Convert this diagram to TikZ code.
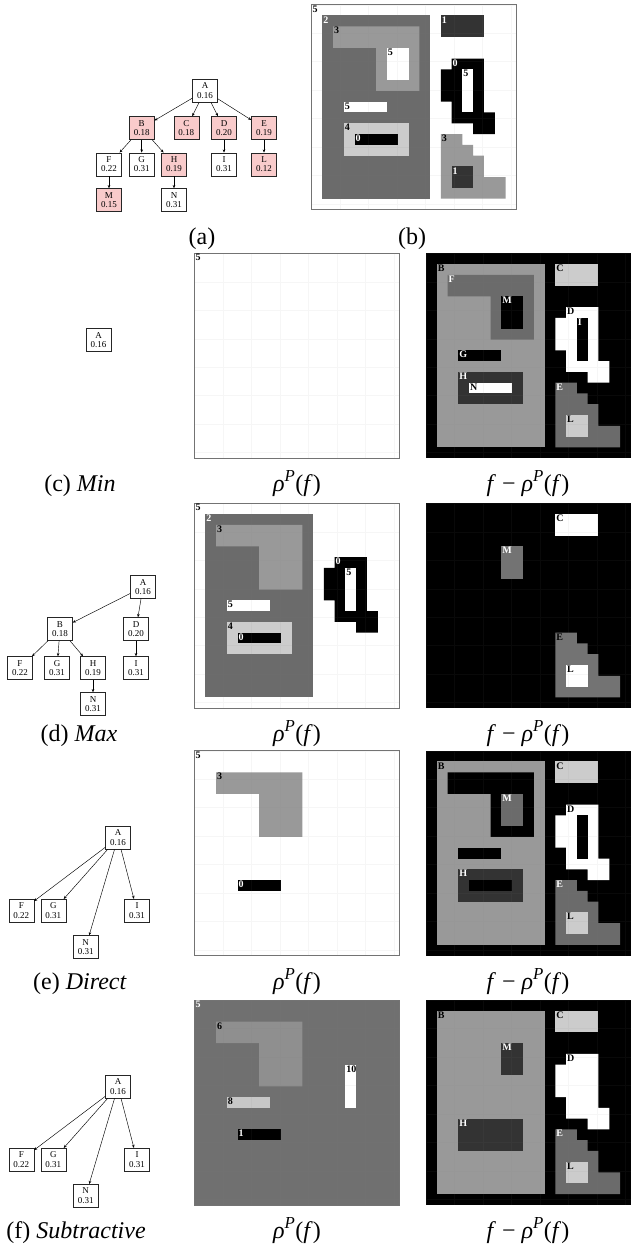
\documentclass[tikz,border=0pt]{standalone}
\usepackage{fontspec}
\setmainfont{Liberation Serif}
\usetikzlibrary{arrows.meta}
\definecolor{treepink}{HTML}{F9CBCB}
\definecolor{lv0}{gray}{0}
\definecolor{lv1}{gray}{0.2}
\definecolor{lv2}{gray}{0.42}
\definecolor{lv3}{gray}{0.6}
\definecolor{lv4}{gray}{0.8}
\definecolor{lv5}{gray}{1}
\definecolor{lvmid}{gray}{0.45}
\definecolor{sub5}{gray}{0.44}
\definecolor{sub6}{gray}{0.56}
\definecolor{sub8}{gray}{0.78}

% regions of the 19x19 image, in pixel cells (y downwards)
\newcommand{\zoneA}{(0,0) rectangle (19,19)}
\newcommand{\zoneB}{(1,1) rectangle (11,18)}
\newcommand{\zoneF}{(2,2) -- (10,2) -- (10,8) -- (6,8) -- (6,4) -- (2,4) -- cycle}
\newcommand{\zoneM}{(7,4) rectangle (9,7)}
\newcommand{\zoneG}{(3,9) rectangle (7,10)}
\newcommand{\zoneH}{(3,11) rectangle (9,14)}
\newcommand{\zoneN}{(4,12) rectangle (8,13)}
\newcommand{\zoneC}{(12,1) rectangle (16,3)}
\newcommand{\zoneD}{(13,5) -- (16,5) -- (16,10) -- (17,10) -- (17,12) -- (15,12) -- (15,11) -- (13,11) -- (13,9) -- (12,9) -- (12,6) -- (13,6) -- cycle}
\newcommand{\zoneI}{(14,6) rectangle (15,10)}
\newcommand{\zoneE}{(12,12) -- (14,12) -- (14,13) -- (15,13) -- (15,14) -- (16,14) -- (16,16) -- (18,16) -- (18,18) -- (12,18) -- cycle}
\newcommand{\zoneL}{(13,15) rectangle (15,17)}

\begin{document}
\begin{tikzpicture}[x=1pt, y=-1pt,
  tnode/.style={draw=black!85, line width=0.5pt, fill=white, minimum width=25pt, minimum height=23pt, inner sep=0.5pt, align=center, font=\fontsize{9}{9.5}\selectfont},
  hot/.style={tnode, fill=treepink},
  tarrow/.style={-{Stealth[length=3.2pt,width=2.6pt]}, line width=0.45pt},
  pixlab/.style={anchor=north west, inner sep=0.8pt, font=\fontsize{10}{10}\selectfont\bfseries},
  pixgrid/.style={draw=gray, opacity=0.07, line width=0.3pt},
  pixframe/.style={draw=black!55, line width=0.6pt},
  captext/.style={anchor=base, font=\fontsize{24}{28}\selectfont},
  panel/.style={shift={#1}, x=10.78pt, y=-10.78pt},
]
  \useasboundingbox (0,0) rectangle (631,1249);

  % (a) the tree
  \node[tnode] (aA) at (205, 90.7)  {A\\0.16};
  \node[hot]   (aB) at (141.7, 128) {B\\0.18};
  \node[hot]   (aC) at (186.3, 128) {C\\0.18};
  \node[hot]   (aD) at (224, 128)   {D\\0.20};
  \node[hot]   (aE) at (264, 128)   {E\\0.19};
  \node[tnode] (aF) at (109, 164.3) {F\\0.22};
  \node[tnode] (aG) at (141.7, 164.3) {G\\0.31};
  \node[hot]   (aH) at (174, 164.3) {H\\0.19};
  \node[tnode] (aI) at (224, 164.3) {I\\0.31};
  \node[hot]   (aL) at (264, 164.3) {L\\0.12};
  \node[hot]   (aM) at (109, 200)   {M\\0.15};
  \node[tnode] (aN) at (174, 200)   {N\\0.31};
  \foreach \p/\c in {A/B, A/C, A/D, A/E, B/F, B/G, B/H, D/I, E/L, F/M, H/N}
    \draw[tarrow] (a\p) -- (a\c);

  % (b) the image f
  \begin{scope}[panel={(311.5,4.7)}]
    \fill[lv5] \zoneA; \fill[lv2] \zoneB; \fill[lv3] \zoneF; \fill[lv5] \zoneM;
    \fill[lv5] \zoneG; \fill[lv4] \zoneH; \fill[lv0] \zoneN; \fill[lv1] \zoneC;
    \fill[lv0] \zoneD; \fill[lv5] \zoneI; \fill[lv3] \zoneE; \fill[lv1] \zoneL;
    \draw[pixgrid] (0,0) grid (19,19);
    \draw[pixframe] \zoneA;
    \node[pixlab] at (0,0) {5};
    \node[pixlab, text=white] at (1,1) {2};
    \node[pixlab] at (2,2) {3};
    \node[pixlab] at (7,4) {5};
    \node[pixlab] at (3,9) {5};
    \node[pixlab] at (3,11) {4};
    \node[pixlab, text=white] at (4,12) {0};
    \node[pixlab, text=white] at (12,1) {1};
    \node[pixlab, text=white] at (13,5) {0};
    \node[pixlab] at (14,6) {5};
    \node[pixlab] at (12,12) {3};
    \node[pixlab, text=white] at (13,15) {1};
  \end{scope}
  \node[captext] at (202, 244) {(a)};
  \node[captext] at (412, 244) {(b)};

  % (c) Min
  \node[tnode] (cA) at (98.5, 340) {A\\0.16};
  \begin{scope}[panel={(194.5,253.3)}]
    \fill[lv5] \zoneA;
    \draw[pixgrid] (0,0) grid (19,19);
    \draw[pixframe] \zoneA;
    \node[pixlab] at (0,0) {5};
  \end{scope}
  \begin{scope}[panel={(426,253.3)}]
    \fill[lv0] \zoneA; \fill[lv3] \zoneB; \fill[lv2] \zoneF; \fill[lv0] \zoneM;
    \fill[lv0] \zoneG; \fill[lv1] \zoneH; \fill[lv5] \zoneN; \fill[lv4] \zoneC;
    \fill[lv5] \zoneD; \fill[lv0] \zoneI; \fill[lv2] \zoneE; \fill[lv4] \zoneL;
    \draw[pixgrid] (0,0) grid (19,19);
    \node[pixlab] at (1,1) {B};
    \node[pixlab, text=white] at (2,2) {F};
    \node[pixlab, text=white] at (7,4) {M};
    \node[pixlab, text=white] at (3,9) {G};
    \node[pixlab, text=white] at (3,11) {H};
    \node[pixlab] at (4,12) {N};
    \node[pixlab] at (12,1) {C};
    \node[pixlab] at (13,5) {D};
    \node[pixlab, text=white] at (14,6) {I};
    \node[pixlab, text=white] at (12,12) {E};
    \node[pixlab] at (13,15) {L};
  \end{scope}
  \node[captext] at (80, 491) {(c) \textit{Min}};
  \node[captext] at (297, 491) {\textit{ρ}\textsuperscript{\textit{P}}(\textit{f})};
  \node[captext] at (528, 491) {\textit{f} − \textit{ρ}\textsuperscript{\textit{P}}(\textit{f})};

  % (d) Max
  \node[tnode] (dA) at (143, 587) {A\\0.16};
  \node[tnode] (dB) at (60, 629)  {B\\0.18};
  \node[tnode] (dD) at (136, 629) {D\\0.20};
  \node[tnode] (dF) at (20, 668)  {F\\0.22};
  \node[tnode] (dG) at (57, 668)  {G\\0.31};
  \node[tnode] (dH) at (93, 668)  {H\\0.19};
  \node[tnode] (dI) at (136, 668) {I\\0.31};
  \node[tnode] (dN) at (93, 704)  {N\\0.31};
  \foreach \p/\c in {A/B, A/D, B/F, B/G, B/H, D/I, H/N}
    \draw[tarrow] (d\p) -- (d\c);
  \begin{scope}[panel={(194.5,503.3)}]
    \fill[lv5] \zoneA; \fill[lv2] \zoneB; \fill[lv3] \zoneF;
    \fill[lv5] \zoneG; \fill[lv4] \zoneH; \fill[lv0] \zoneN;
    \fill[lv0] \zoneD; \fill[lv5] \zoneI;
    \draw[pixgrid] (0,0) grid (19,19);
    \draw[pixframe] \zoneA;
    \node[pixlab] at (0,0) {5};
    \node[pixlab, text=white] at (1,1) {2};
    \node[pixlab] at (2,2) {3};
    \node[pixlab] at (3,9) {5};
    \node[pixlab] at (3,11) {4};
    \node[pixlab, text=white] at (4,12) {0};
    \node[pixlab, text=white] at (13,5) {0};
    \node[pixlab] at (14,6) {5};
  \end{scope}
  \begin{scope}[panel={(426,503.3)}]
    \fill[lv0] \zoneA; \fill[lvmid] \zoneM; \fill[lv5] \zoneC;
    \fill[lvmid] \zoneE; \fill[lv5] \zoneL;
    \draw[pixgrid] (0,0) grid (19,19);
    \node[pixlab, text=white] at (7,4) {M};
    \node[pixlab] at (12,1) {C};
    \node[pixlab] at (12,12) {E};
    \node[pixlab] at (13,15) {L};
  \end{scope}
  \node[captext] at (79, 741) {(d) \textit{Max}};
  \node[captext] at (297, 741) {\textit{ρ}\textsuperscript{\textit{P}}(\textit{f})};
  \node[captext] at (528, 741) {\textit{f} − \textit{ρ}\textsuperscript{\textit{P}}(\textit{f})};

  % (e) Direct
  \node[tnode] (eA) at (118, 837.7) {A\\0.16};
  \node[tnode] (eF) at (21.3, 910.7) {F\\0.22};
  \node[tnode] (eG) at (53.3, 910.7) {G\\0.31};
  \node[tnode] (eI) at (137, 910.7)  {I\\0.31};
  \node[tnode] (eN) at (85.7, 947)   {N\\0.31};
  \foreach \c in {F, G, N, I}
    \draw[tarrow] (eA) -- (e\c);
  \begin{scope}[panel={(194.5,750.7)}]
    \fill[lv5] \zoneA; \fill[lv3] \zoneF; \fill[lv0] \zoneN;
    \draw[pixgrid] (0,0) grid (19,19);
    \draw[pixframe] \zoneA;
    \node[pixlab] at (0,0) {5};
    \node[pixlab] at (2,2) {3};
    \node[pixlab, text=white] at (4,12) {0};
  \end{scope}
  \begin{scope}[panel={(426,750.7)}]
    \fill[lv0] \zoneA; \fill[lv3] \zoneB; \fill[lv0] \zoneF; \fill[lv2] \zoneM;
    \fill[lv0] \zoneG; \fill[lv1] \zoneH; \fill[lv0] \zoneN; \fill[lv4] \zoneC;
    \fill[lv5] \zoneD; \fill[lv0] \zoneI; \fill[lv2] \zoneE; \fill[lv4] \zoneL;
    \draw[pixgrid] (0,0) grid (19,19);
    \node[pixlab] at (1,1) {B};
    \node[pixlab, text=white] at (7,4) {M};
    \node[pixlab, text=white] at (3,11) {H};
    \node[pixlab] at (12,1) {C};
    \node[pixlab] at (13,5) {D};
    \node[pixlab, text=white] at (12,12) {E};
    \node[pixlab] at (13,15) {L};
  \end{scope}
  \node[captext] at (80, 989) {(e) \textit{Direct}};
  \node[captext] at (297, 989) {\textit{ρ}\textsuperscript{\textit{P}}(\textit{f})};
  \node[captext] at (528, 989) {\textit{f} − \textit{ρ}\textsuperscript{\textit{P}}(\textit{f})};

  % (f) Subtractive
  \node[tnode] (fA) at (118, 1086.7) {A\\0.16};
  \node[tnode] (fF) at (21.3, 1159.7) {F\\0.22};
  \node[tnode] (fG) at (53.3, 1159.7) {G\\0.31};
  \node[tnode] (fI) at (137, 1159.7)  {I\\0.31};
  \node[tnode] (fN) at (85.7, 1195.7) {N\\0.31};
  \foreach \c in {F, G, N, I}
    \draw[tarrow] (fA) -- (f\c);
  \begin{scope}[panel={(194.5,1000)}]
    \fill[sub5] \zoneA; \fill[sub6] \zoneF; \fill[sub8] \zoneG;
    \fill[lv0] \zoneN; \fill[lv5] \zoneI;
    \draw[pixgrid] (0,0) grid (19,19);
    \draw[pixframe] \zoneA;
    \node[pixlab, text=white] at (0,0) {5};
    \node[pixlab] at (2,2) {6};
    \node[pixlab] at (3,9) {8};
    \node[pixlab, text=white] at (4,12) {1};
    \node[pixlab] at (14,6) {10};
  \end{scope}
  \begin{scope}[panel={(426,1000)}]
    \fill[lv0] \zoneA; \fill[lv3] \zoneB; \fill[lv1] \zoneM; \fill[lv1] \zoneH;
    \fill[lv4] \zoneC; \fill[lv5] \zoneD; \fill[lv2] \zoneE; \fill[lv4] \zoneL;
    \draw[pixgrid] (0,0) grid (19,19);
    \node[pixlab] at (1,1) {B};
    \node[pixlab, text=white] at (7,4) {M};
    \node[pixlab, text=white] at (3,11) {H};
    \node[pixlab] at (12,1) {C};
    \node[pixlab] at (13,5) {D};
    \node[pixlab, text=white] at (12,12) {E};
    \node[pixlab] at (13,15) {L};
  \end{scope}
  \node[captext] at (76, 1238) {(f) \textit{Subtractive}};
  \node[captext] at (297, 1238) {\textit{ρ}\textsuperscript{\textit{P}}(\textit{f})};
  \node[captext] at (528, 1238) {\textit{f} − \textit{ρ}\textsuperscript{\textit{P}}(\textit{f})};
\end{tikzpicture}
\end{document}
